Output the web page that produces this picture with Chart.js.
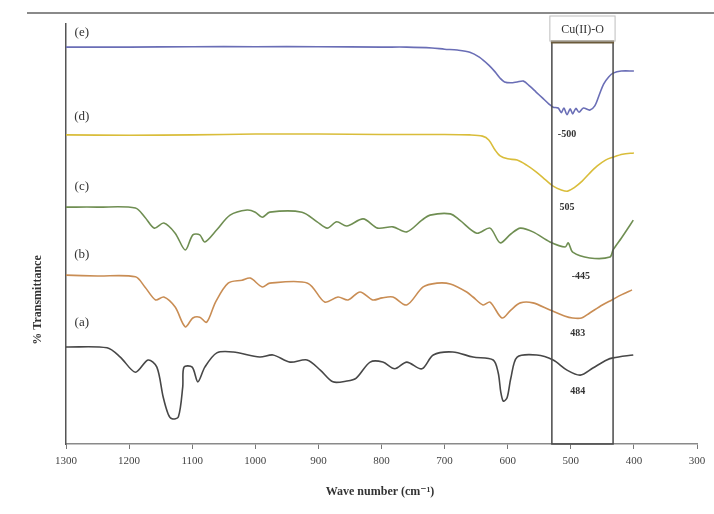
<!DOCTYPE html>
<html>
<head>
<meta charset="utf-8">
<script src="https://cdn.jsdelivr.net/npm/chart.js@4.4.1/dist/chart.umd.min.js"></script>
<style>
  html, body { margin: 0; padding: 0; background: #ffffff; }
  #wrap { width: 714px; height: 514px; position: relative; }
</style>
</head>
<body>
<div id="wrap"><canvas id="c" width="714" height="514"></canvas></div>
<script>
// ---- Data (wavenumber in cm^-1, transmittance in arbitrary offset %) ----
const xTicks = [1300, 1200, 1100, 1000, 900, 800, 700, 600, 500, 400, 300];

const waveE  = [1300,1200,1100,1000,900,800,760,720,700,680,660,645,630,620,612,605,595,585,575,565,555,545,535,528,520,515,511,506,501,497,492,487,480,470,462,455,448,440,433,420,400];
const transE = [94.5,94.5,94.6,94.6,94.6,94.5,94.5,94.3,94.0,93.8,93.3,92.1,90.2,88.6,87.1,86.2,86.0,86.2,86.4,85.2,83.8,82.4,81.0,80.2,80.0,78.9,80.0,78.4,79.8,78.6,79.9,79.0,80.0,79.5,80.5,83.1,85.7,87.4,88.3,88.8,88.8];

const waveD  = [1300,1200,1100,1000,900,800,700,660,640,630,620,612,600,585,570,555,540,528,515,505,495,482,470,458,445,433,418,400];
const transD = [73.6,73.5,73.6,73.8,73.8,73.7,73.7,73.6,73.3,72.4,70.0,68.6,67.9,67.6,66.4,64.8,62.9,61.4,60.5,60.2,61.0,62.6,64.5,66.2,67.6,68.3,69.0,69.3];

const waveC  = [1300,1250,1190,1175,1160,1145,1127,1111,1099,1088,1080,1061,1040,1013,1000,989,977,926,902,886,871,855,829,806,782,760,736,723,691,676,649,628,612,595,580,560,533,509,504,497,470,438,433,420,411,401];
const transC = [56.4,56.4,56.2,54.0,51.4,52.6,50.2,46.2,49.8,49.8,48.1,51.0,54.5,55.7,55.2,54.0,55.2,55.2,52.9,51.4,52.9,51.9,53.6,51.4,51.7,50.5,53.3,54.5,54.8,53.3,50.2,51.4,47.9,50.0,51.4,50.5,48.1,46.9,47.9,45.7,44.3,44.5,46.2,49.0,51.0,53.3];

const waveB  = [1300,1250,1190,1175,1158,1145,1127,1111,1099,1088,1077,1063,1043,1021,1008,989,977,917,890,869,853,834,814,799,782,760,734,712,691,665,655,639,628,609,595,580,560,533,510,497,483,470,450,435,420,403];
const transB = [40.2,40.0,39.8,37.4,34.3,35.0,32.6,27.9,30.0,30.2,29.0,33.8,38.3,39.0,39.5,37.4,38.3,38.3,33.8,35.0,34.3,36.2,34.3,34.8,35.0,33.1,37.4,38.3,38.1,36.2,35.0,33.1,33.8,30.0,31.9,33.6,33.6,31.9,30.5,30.0,30.0,31.2,33.1,34.3,35.5,36.7];

const waveA  = [1300,1235,1214,1190,1170,1156,1146,1138,1132,1122,1115,1113,1100,1091,1080,1061,1035,993,972,945,918,897,877,855,840,818,798,779,760,736,718,687,655,623,615,611,607,601,595,585,554,528,506,485,465,443,433,401];
const transA = [23.1,22.9,20.7,17.1,20.0,18.3,11.2,7.1,6.0,6.4,13.6,18.3,18.3,14.8,18.3,21.7,21.9,20.7,21.2,19.5,20.0,17.6,14.8,15.0,15.7,19.5,19.5,17.9,19.5,17.9,21.2,21.9,20.7,20.0,16.9,12.4,10.2,11.0,15.7,20.7,21.2,20.0,17.6,16.4,18.1,20.0,20.5,21.2];

// Series labels (a)-(e)
const seriesNames  = ['(a)', '(b)', '(c)', '(d)', '(e)'];
const seriesLabelX = [1275, 1275, 1275, 1275, 1275];
const seriesLabelY = [28.8, 45.0, 61.2, 77.9, 97.9];

// Peak labels inside the box
const peakNames = ['-500', '505', '-445', '483', '484'];
const peakX     = [506, 506, 484, 489, 489];
const peakY     = [73.6, 56.4, 40.0, 26.4, 12.4];

// Highlight box (Cu(II)-O band)
const boxFrom = 530, boxTo = 433, boxTop = 95.7;
const boxLabel = 'Cu(II)-O';

const xTitle = 'Wave number (cm\u207B\u00B9)';
const yTitle = '% Transmittance';

function pts(xs, ys) { return xs.map((x, i) => ({ x: x, y: ys[i] })); }

const serif = "'Liberation Serif', 'DejaVu Serif', serif";

const annot = {
  id: 'annot',
  beforeDraw(chart) {
    const ctx = chart.ctx;
    ctx.save();
    ctx.strokeStyle = '#8a8a8a';
    ctx.lineWidth = 2;
    ctx.beginPath();
    ctx.moveTo(27, 13);
    ctx.lineTo(714, 13);
    ctx.stroke();
    ctx.restore();
  },
  afterDraw(chart) {
    const ctx = chart.ctx;
    const xs = chart.scales.x, ys = chart.scales.y;
    ctx.save();
    // box
    const x1 = xs.getPixelForValue(boxFrom), x2 = xs.getPixelForValue(boxTo);
    const yT = ys.getPixelForValue(boxTop), yB = ys.getPixelForValue(0);
    ctx.strokeStyle = '#4a4a4a';
    ctx.lineWidth = 1.5;
    ctx.beginPath();
    ctx.moveTo(x1, yT); ctx.lineTo(x1, yB); ctx.lineTo(x2, yB); ctx.lineTo(x2, yT);
    ctx.stroke();
    ctx.strokeStyle = '#6b5a3a';
    ctx.lineWidth = 3;
    ctx.beginPath();
    ctx.moveTo(x1 - 1, yT); ctx.lineTo(x2 + 1, yT);
    ctx.stroke();
    // label box
    ctx.strokeStyle = '#bdbdbd';
    ctx.lineWidth = 1;
    ctx.strokeRect(x1 - 2, 16, (x2 - x1) + 4, yT - 17);
    ctx.fillStyle = '#333';
    ctx.font = '12px ' + serif;
    ctx.textAlign = 'center';
    ctx.textBaseline = 'middle';
    ctx.fillText(boxLabel, (x1 + x2) / 2, 30);
    // peak labels
    ctx.font = 'bold 10px ' + serif;
    peakNames.forEach((t, i) => {
      ctx.fillText(t, xs.getPixelForValue(peakX[i]), ys.getPixelForValue(peakY[i]));
    });
    // series labels
    ctx.font = '13px ' + serif;
    seriesNames.forEach((t, i) => {
      ctx.fillText(t, xs.getPixelForValue(seriesLabelX[i]), ys.getPixelForValue(seriesLabelY[i]));
    });
    // axis titles
    ctx.font = 'bold 12px ' + serif;
    ctx.fillText(xTitle, 380, 492);
    ctx.translate(38, 300);
    ctx.rotate(-Math.PI / 2);
    ctx.fillText(yTitle, 0, 0);
    ctx.restore();
  }
};

const mk = (label, xs, ys, color) => ({
  label: label, data: pts(xs, ys), borderColor: color, borderWidth: 1.6,
  pointRadius: 0, tension: 0.3, fill: false
});

new Chart(document.getElementById('c'), {
  type: 'line',
  data: {
    datasets: [
      mk('(e)', waveE, transE, '#6a6eb6'),
      mk('(d)', waveD, transD, '#d9bd3a'),
      mk('(c)', waveC, transC, '#6f8e52'),
      mk('(b)', waveB, transB, '#c98d54'),
      mk('(a)', waveA, transA, '#474747')
    ]
  },
  options: {
    responsive: false,
    animation: false,
    layout: { padding: { left: 66, right: 17, top: 24, bottom: 0 } },
    plugins: { legend: { display: false }, tooltip: { enabled: false } },
    scales: {
      x: {
        type: 'linear', reverse: true, min: 300, max: 1300,
        afterBuildTicks: s => { s.ticks = xTicks.map(v => ({ value: v })); },
        afterFit: s => { s.height = 70; },
        grid: { display: true, drawOnChartArea: false, drawTicks: true, tickLength: 5, color: '#777' },
        border: { display: true, color: '#8a8a8a', width: 1.5 },
        ticks: { color: '#444', font: { family: serif, size: 11 }, padding: 6, maxRotation: 0,
                 callback: v => String(v) }
      },
      y: {
        min: 0, max: 100,
        afterFit: s => { s.width = 0; },
        ticks: { display: false },
        grid: { display: false, drawTicks: false },
        border: { display: true, color: '#555', width: 1.5 }
      }
    }
  },
  plugins: [annot]
});
</script>
</body>
</html>
